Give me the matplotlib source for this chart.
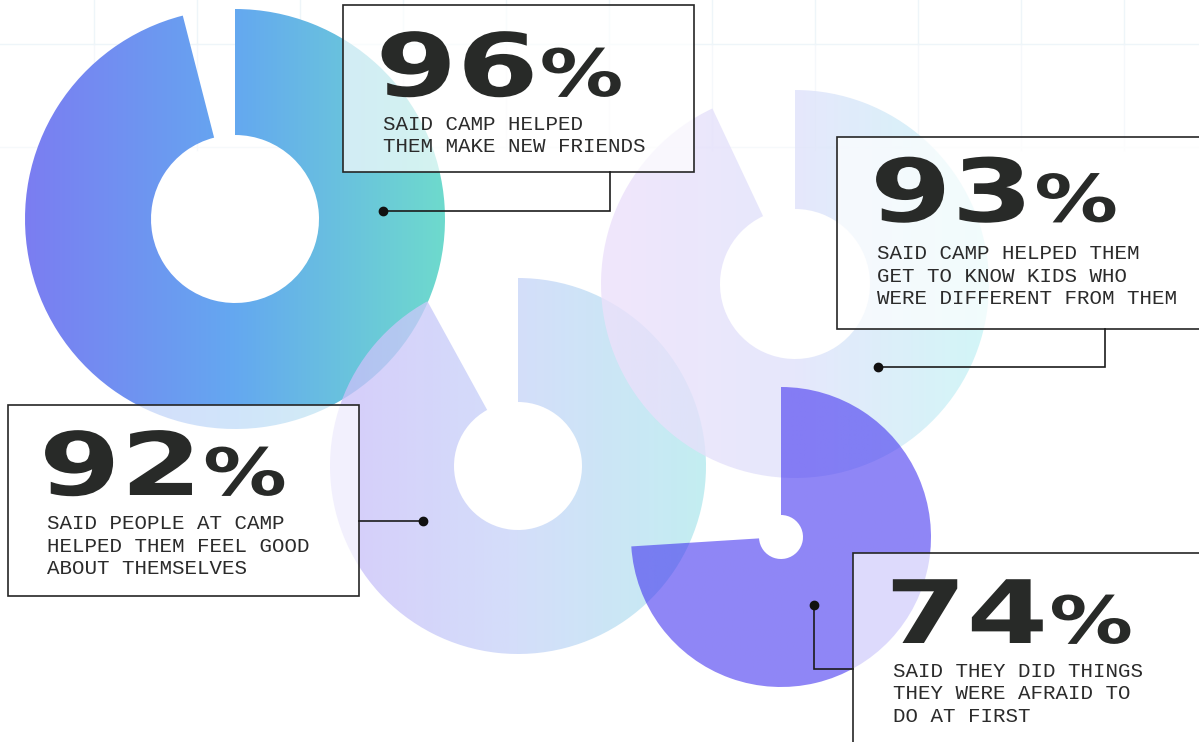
import numpy as np
import matplotlib.pyplot as plt
from matplotlib.patches import Wedge, Rectangle
from matplotlib.colors import LinearSegmentedColormap
from matplotlib.patheffects import AbstractPathEffect
from matplotlib.transforms import Affine2D

# ---- data ----
pcts = [96, 93, 92, 74]
captions = [
    ["SAID CAMP HELPED", "THEM MAKE NEW FRIENDS"],
    ["SAID CAMP HELPED THEM", "GET TO KNOW KIDS WHO", "WERE DIFFERENT FROM THEM"],
    ["SAID PEOPLE AT CAMP", "HELPED THEM FEEL GOOD", "ABOUT THEMSELVES"],
    ["SAID THEY DID THINGS", "THEY WERE AFRAID TO", "DO AT FIRST"],
]

# ---- layout (pixel units, y pointing down) ----
W, H = 1199, 742
centers = [(235, 219), (795, 284), (518, 466), (781, 537)]
outer_r = [210, 194, 188, 150]
inner_r = [84, 75, 64, 22]
ring_colors = [
    ["#7B7DF2", "#64A8F0", "#6EDACD"],
    ["#EDE0FB", "#E0E2FB", "#C7F4F6"],
    ["#CABFF9", "#C8D5F9", "#B2E9EE"],
    ["#3B2BF0", "#3B2BF0"],
]
ring_alpha = [1.0, 0.8, 0.78, 0.57]
ring_z = [1, 3, 2, 4]
boxes = [(343, 5, 694, 172), (837, 137, 1212, 329), (8, 405, 359, 596), (853, 553, 1212, 760)]
num_pos = [(375.5, 96), (870, 221.5), (39, 495), (885, 643)]
cap_pos = [(383, 129.5), (877, 259.3), (47, 529.3), (893, 676.7)]
leaders = [
    [(610, 172), (610, 211), (383, 211)],
    [(1105, 329), (1105, 367), (878, 367)],
    [(359, 521), (423, 521)],
    [(853, 669), (814, 669), (814, 605)],
]

INK = "#282a28"


# stretch text horizontally (the original uses an extended typeface)
class Stretch(AbstractPathEffect):
    def __init__(self, sx):
        super().__init__()
        self.sx = sx

    def draw_path(self, renderer, gc, tpath, affine, rgbFace=None):
        x0 = affine.get_matrix()[0, 2]
        affine = affine + Affine2D().translate(-x0, 0).scale(self.sx, 1).translate(x0, 0)
        renderer.draw_path(gc, tpath, affine, rgbFace)


fig = plt.figure(figsize=(W / 100, H / 100), dpi=100)
ax = fig.add_axes([0, 0, 1, 1])
ax.set_xlim(0, W)
ax.set_ylim(H, 0)
ax.set_autoscale_on(False)
ax.axis("off")

# very faint background grid near the top
for gx in np.arange(94, W, 103):
    ax.plot([gx, gx], [0, 44], color="#eef5f9", lw=1, zorder=0)
    ax.plot([gx, gx], [44, 150], color="#f5f8fb", lw=1, zorder=0)
ax.plot([0, W], [44, 44], color="#eef5f9", lw=1, zorder=0)
ax.plot([0, W], [147, 147], color="#f6f9fb", lw=1, zorder=0)

# donut wedges with gradient fill
grad = np.linspace(0, 1, 256).reshape(1, -1)
for i, p in enumerate(pcts):
    cx, cy = centers[i]
    R, r = outer_r[i], inner_r[i]
    wedge = Wedge((cx, cy), R, -90, -90 + p * 3.6, width=R - r,
                  facecolor="none", edgecolor="none")
    ax.add_patch(wedge)
    cmap = LinearSegmentedColormap.from_list("g%d" % i, ring_colors[i])
    img = ax.imshow(grad, cmap=cmap, extent=(cx - R, cx + R, cy + R, cy - R),
                    alpha=ring_alpha[i], aspect="auto", interpolation="bilinear",
                    zorder=ring_z[i])
    img.set_clip_path(wedge)

renderer = fig.canvas.get_renderer()

# boxes, leaders and labels
for i, p in enumerate(pcts):
    x0, y0, x1, y1 = boxes[i]
    ax.add_patch(Rectangle((x0, y0), x1 - x0, y1 - y0, facecolor=(1, 1, 1, 0.7),
                           edgecolor="#262626", lw=1.2, zorder=6))
    xs, ys = zip(*leaders[i])
    ax.plot(xs, ys, color="#1c1c1c", lw=1.2, zorder=7, solid_joinstyle="miter")
    ax.plot(xs[-1], ys[-1], "o", color="#111111", ms=6, zorder=8)

    nx, ny = num_pos[i]
    t = ax.text(nx, ny, str(p), fontsize=63, fontweight="bold", family="DejaVu Sans",
                color=INK, ha="left", va="baseline", zorder=9,
                path_effects=[Stretch(1.34)])
    wd = t.get_window_extent(renderer=renderer).width * 1.34
    ax.text(nx + wd + 1, ny, "%", fontsize=47, fontweight="bold", family="DejaVu Sans",
            color=INK, ha="left", va="baseline", zorder=9,
            path_effects=[Stretch(1.28)])

    cx, cy = cap_pos[i]
    for k, line in enumerate(captions[i]):
        ax.text(cx, cy + k * 22.6, line, fontsize=15, family="Liberation Mono",
                color="#2b2b2b", ha="left", va="baseline", zorder=9)

fig.savefig("out.png", dpi=100, facecolor="white")
